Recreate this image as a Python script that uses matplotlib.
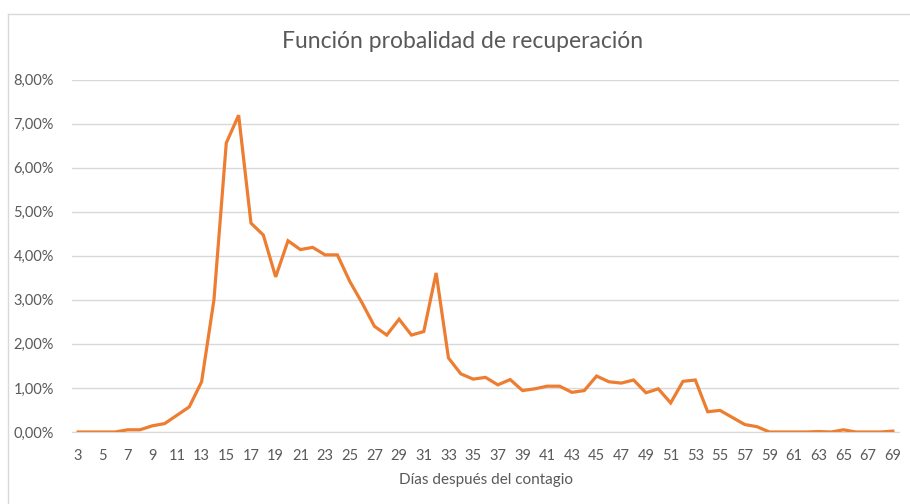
import matplotlib as mpl
mpl.use('Agg')
import matplotlib.pyplot as plt
from matplotlib.ticker import FuncFormatter
from matplotlib.lines import Line2D

# días después del contagio
dias = list(range(3, 70))

# probabilidad de recuperación (%)
prob = [0.00, 0.00, 0.00, 0.00, 0.05, 0.05, 0.14, 0.19, 0.38, 0.57,
        1.14, 3.00, 6.56, 7.19, 4.74, 4.47, 3.52, 4.34, 4.14, 4.19,
        4.02, 4.02, 3.42, 2.93, 2.40, 2.20, 2.56, 2.20, 2.28, 3.61,
        1.68, 1.32, 1.20, 1.24, 1.07, 1.19, 0.94, 0.98, 1.04, 1.04,
        0.90, 0.94, 1.27, 1.14, 1.11, 1.18, 0.89, 0.98, 0.66, 1.15,
        1.18, 0.46, 0.49, 0.33, 0.17, 0.12, 0.00, 0.00, 0.00, 0.00,
        0.01, 0.00, 0.05, 0.00, 0.00, 0.00, 0.02]

yticks = [0, 1, 2, 3, 4, 5, 6, 7, 8]
xticks = list(range(3, 70, 2))

titulo = 'Función probalidad de recuperación'
xlabel = 'Días después del contagio'

plt.rcParams['font.family'] = ['Lato', 'DejaVu Sans']
gris = '#595959'

fig = plt.figure(figsize=(9.1, 5.04), dpi=100)
ax = fig.add_axes([72/910, 1-432/504, 827/910, (432-79.5)/504])

ax.plot(dias, prob, color='#ED7D31', linewidth=2.3, solid_joinstyle='miter', zorder=3)

ax.set_xlim(2.5, 69.5)
ax.set_ylim(0, 8)
ax.set_yticks(yticks)
ax.set_xticks(xticks)
ax.yaxis.set_major_formatter(FuncFormatter(lambda v, p: ('%.2f%%' % v).replace('.', ',')))
ax.grid(axis='y', color='#D9D9D9', linewidth=1.0)
ax.set_axisbelow(True)
for s in ['left', 'right', 'top']:
    ax.spines[s].set_visible(False)
ax.spines['bottom'].set_color('#D9D9D9')
ax.tick_params(axis='both', length=0, colors=gris, labelsize=10.5)
ax.tick_params(axis='x', pad=12)
ax.tick_params(axis='y', pad=13)

fig.text(463/910, 1-42/504, titulo, ha='center', va='center', fontsize=16.5, color=gris)
fig.text(486/910, 1-480/504, xlabel, ha='center', va='center', fontsize=11, color=gris)

# borde del área del gráfico
fig.add_artist(Line2D([7.5/910, 7.5/910], [0, 1-13.5/504], transform=fig.transFigure, color='#D9D9D9', linewidth=1))
fig.add_artist(Line2D([7.5/910, 1], [1-13.5/504, 1-13.5/504], transform=fig.transFigure, color='#D9D9D9', linewidth=1))

plt.savefig('out.png', dpi=100)
